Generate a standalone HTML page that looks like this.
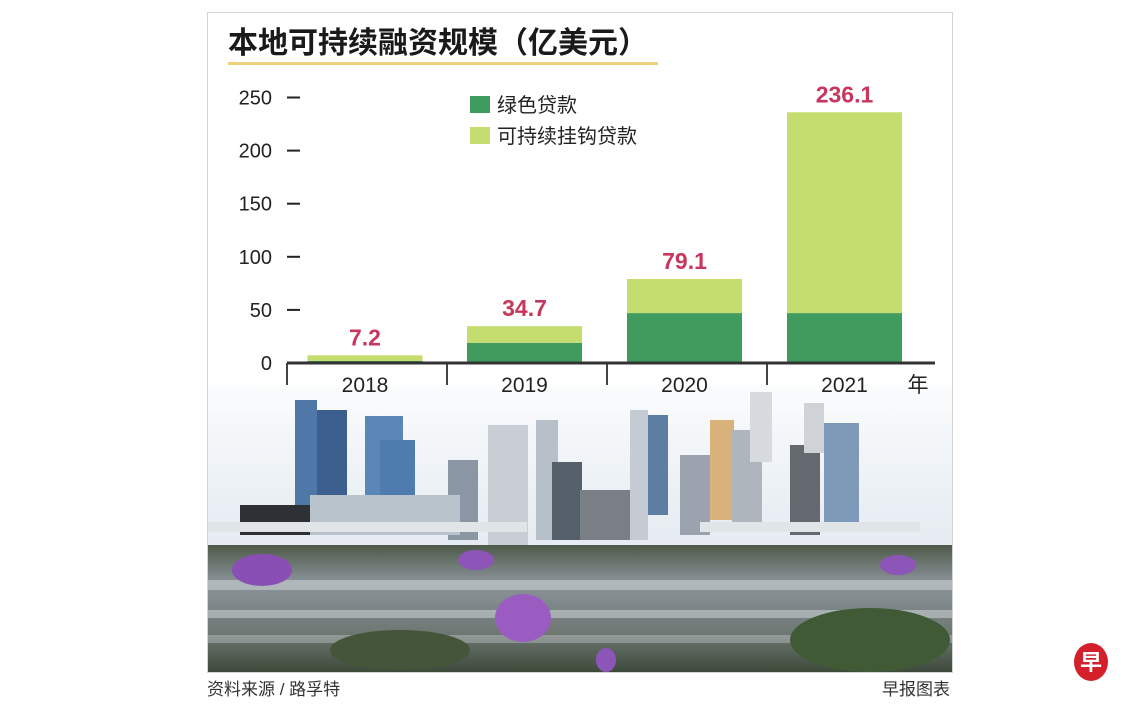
<!DOCTYPE html>
<html><head><meta charset="utf-8"><style>
html,body{margin:0;padding:0;background:#fff;width:1140px;height:712px;overflow:hidden}
svg{display:block}
text{font-family:"Liberation Sans","Noto Sans CJK SC",sans-serif}
</style></head><body>
<svg id="c" width="1140" height="712" viewBox="0 0 1140 712">
<defs>
<linearGradient id="sky" x1="0" y1="0" x2="0" y2="1"><stop offset="0" stop-color="#fbfcfd"/><stop offset="0.45" stop-color="#e8eef3"/><stop offset="1" stop-color="#dfe6ec"/></linearGradient>
<linearGradient id="water" x1="0" y1="0" x2="0" y2="1"><stop offset="0" stop-color="#4f5a4a"/><stop offset="0.3" stop-color="#8b949a"/><stop offset="0.7" stop-color="#6e7772"/><stop offset="1" stop-color="#3d4a3a"/></linearGradient>
</defs>
<g>
<rect x="207" y="385" width="745" height="287" fill="url(#sky)"/>
<rect x="295" y="400" width="22" height="105" fill="#4f78a8"/>
<rect x="317" y="410" width="30" height="95" fill="#3d5f8f"/>
<rect x="365" y="416" width="38" height="90" fill="#5a86b8"/>
<rect x="380" y="440" width="35" height="66" fill="#4f7cae"/>
<rect x="448" y="460" width="30" height="80" fill="#8a96a4"/>
<rect x="488" y="425" width="40" height="120" fill="#c9ced4"/>
<rect x="536" y="420" width="22" height="120" fill="#b7c0c8"/>
<rect x="552" y="462" width="30" height="78" fill="#56606b"/>
<rect x="580" y="490" width="50" height="50" fill="#7a7f86"/>
<rect x="630" y="410" width="18" height="130" fill="#c5cbd2"/>
<rect x="648" y="415" width="20" height="100" fill="#5c7ea3"/>
<rect x="680" y="455" width="30" height="80" fill="#9aa3ae"/>
<rect x="710" y="420" width="24" height="100" fill="#d8b27a"/>
<rect x="732" y="430" width="30" height="100" fill="#aeb5bd"/>
<rect x="750" y="392" width="22" height="70" fill="#d7dadf"/>
<rect x="790" y="445" width="30" height="90" fill="#64696f"/>
<rect x="804" y="403" width="20" height="50" fill="#cfd3d8"/>
<rect x="824" y="423" width="35" height="100" fill="#7e9ab8"/>
<rect x="240" y="505" width="70" height="30" fill="#2d3034"/>
<rect x="310" y="495" width="150" height="40" fill="#b9c3cc"/>
<rect x="207" y="522" width="320" height="10" fill="#e2e5e8"/>
<rect x="700" y="522" width="220" height="10" fill="#e2e5e8"/>
<rect x="207" y="545" width="745" height="127" fill="url(#water)"/>
<rect x="207" y="580" width="745" height="10" fill="#c8ced2" opacity="0.6"/>
<rect x="207" y="610" width="745" height="8" fill="#d6dbde" opacity="0.5"/>
<rect x="207" y="635" width="745" height="8" fill="#c8ced2" opacity="0.4"/>
<ellipse cx="870" cy="640" rx="80" ry="32" fill="#3f5a35"/>
<ellipse cx="400" cy="650" rx="70" ry="20" fill="#44553a"/>
<ellipse cx="262" cy="570" rx="30" ry="16" fill="#8a4fb5"/>
<ellipse cx="523" cy="618" rx="28" ry="24" fill="#9a5cc0"/>
<ellipse cx="476" cy="560" rx="18" ry="10" fill="#8d55b8"/>
<ellipse cx="898" cy="565" rx="18" ry="10" fill="#8d55b8"/>
<ellipse cx="606" cy="660" rx="10" ry="12" fill="#8d55b8"/>
</g>
<rect x="207.5" y="12.5" width="745" height="660" fill="none" stroke="#d4d4d4"/>
<text x="228" y="53" font-size="30" font-weight="bold" fill="#1a1a1a">本地可持续融资规模（亿美元）</text>
<rect x="228" y="62" width="430" height="3" fill="#ecd27c"/>
<g id="plot"></g>
<text x="207" y="695" font-size="17" fill="#333">资料来源 / 路孚特</text>
<text x="950" y="695" font-size="17" fill="#333" text-anchor="end">早报图表</text>
<g><ellipse cx="1091" cy="662" rx="17" ry="19" fill="#d4202a"/><text x="1091" y="670" font-size="22" font-weight="bold" fill="#fff" text-anchor="middle">早</text></g>
</svg>
<script>
const categories=["2018","2019","2020","2021"];
const greenLoans=[2,19,47,47];
const linkedLoans=[5.2,15.7,32.1,189.1];
const totalLabels=["7.2","34.7","79.1","236.1"];
const yTicks=[0,50,100,150,200,250];
const NS="http://www.w3.org/2000/svg";
const g=document.getElementById('plot');
const y0=363,pxPer=1.062;
const yS=v=>y0-v*pxPer;
const bandL=287,bandW=160;
const xC=i=>bandL+bandW*i+(i===0?78:77.5);
const barW=115;
function mk(t,a){const e=document.createElementNS(NS,t);for(const k in a)e.setAttribute(k,a[k]);g.appendChild(e);return e;}
yTicks.forEach(v=>{
 const t=mk('text',{x:272,y:yS(v)+7,'font-size':20,'text-anchor':'end',fill:'#222'});t.textContent=v;
 
 
 if(v>0){const l=mk('line',{x1:287,x2:300,y1:yS(v),y2:yS(v),stroke:'#222','stroke-width':2});
 
 }
});
categories.forEach((c,i)=>{
 const x=xC(i)-barW/2;
 const gr=mk('rect',{x:x,y:yS(greenLoans[i]),width:barW,height:greenLoans[i]*pxPer,fill:'#3f9b5e'});
 
 
 const tot=greenLoans[i]+linkedLoans[i];
 const lr=mk('rect',{x:x,y:yS(tot),width:barW,height:linkedLoans[i]*pxPer,fill:'#c4dd6e'});
 
 
 const vl=mk('text',{x:xC(i),y:yS(tot)-10,'font-size':23,'font-weight':'bold','text-anchor':'middle',fill:'#c8365e'});
 vl.textContent=totalLabels[i];
 
 
 const xl=mk('text',{x:xC(i),y:392,'font-size':21,'text-anchor':'middle',fill:'#222'});
 xl.textContent=c;
 
 
 const d=mk('line',{x1:bandL+bandW*i,x2:bandL+bandW*i,y1:y0,y2:385,stroke:'#444','stroke-width':2});
 
 
});
const ax=mk('line',{x1:287,x2:935,y1:y0,y2:y0,stroke:'#333','stroke-width':3});


const yr=mk('text',{x:918,y:392,'font-size':21,'text-anchor':'middle',fill:'#222'});yr.textContent='年';


const legItems=[["绿色贷款","#3f9b5e"],["可持续挂钩贷款","#c4dd6e"]];
legItems.forEach((it,i)=>{
 const r=mk('rect',{x:470,y:96+i*31,width:20,height:17,fill:it[1]});
 
 
 const t=mk('text',{x:497,y:112+i*31,'font-size':20,fill:'#222'});t.textContent=it[0];
 
 
});
</script>
</body></html>
